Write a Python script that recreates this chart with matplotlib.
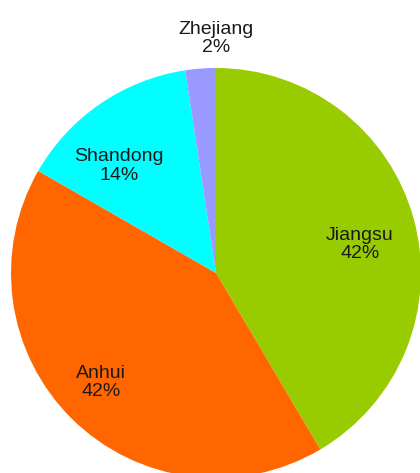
import matplotlib.pyplot as plt

provinces = ["Jiangsu", "Anhui", "Shandong", "Zhejiang"]
shares = [41.5, 41.8, 14.3, 2.4]
colors = ["#99CC00", "#FF6600", "#00FFFF", "#9999FF"]

# label centres in axes data units (pie radius = 1)
label_pos = [(0.702, 0.137), (-0.561, -0.532), (-0.473, 0.522), (0.0, 1.146)]

plt.rcParams["font.family"] = ["Liberation Sans", "DejaVu Sans"]

fig = plt.figure(figsize=(4.2, 4.73), dpi=100)
ax = fig.add_axes([0, 0, 1, 1])

ax.pie(shares, colors=colors, startangle=90, counterclock=False,
       radius=1.0, wedgeprops=dict(linewidth=0))

total = sum(shares)
for name, val, (x, y) in zip(provinces, shares, label_pos):
    ax.text(x, y, f"{name}\n{val / total * 100:.0f}%", ha="center", va="center",
            fontsize=14, color="#1a1a1a", linespacing=1.08)

# pie centre at (216, 273) px, radius 205 px
R = 205.0
ax.set_xlim(-216 / R, (420 - 216) / R)
ax.set_ylim(-(473 - 273) / R, 273 / R)
ax.set_aspect("auto")
ax.axis("off")

fig.savefig("out.png", dpi=100)
